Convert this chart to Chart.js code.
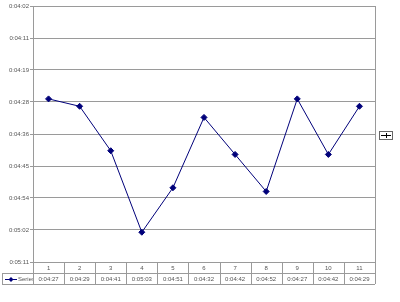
<!DOCTYPE html>
<html>
<head>
<meta charset="utf-8">
<script src="https://cdn.jsdelivr.net/npm/chart.js@4"></script>
<style>
  html, body { margin: 0; padding: 0; background: #fff; }
  #wrap { width: 400px; height: 302px; }
</style>
</head>
<body>
<div id="wrap"><canvas id="chart"></canvas></div>
<script>
// data
var categories = ['1', '2', '3', '4', '5', '6', '7', '8', '9', '10', '11'];
var seriesName = 'Series1';
var seriesText = ['0:04:27', '0:04:29', '0:04:41', '0:05:03', '0:04:51', '0:04:32', '0:04:42', '0:04:52', '0:04:27', '0:04:42', '0:04:29'];
var seriesSeconds = [267, 269, 281, 303, 291, 272, 282, 292, 267, 282, 269];
var yTickLabels = ['0:04:02', '0:04:11', '0:04:19', '0:04:28', '0:04:36', '0:04:45', '0:04:54', '0:05:02', '0:05:11'];
var yTickSeconds = [241.92, 250.56, 259.2, 267.84, 276.48, 285.12, 293.76, 302.4, 311.04];

var gridCol = '#9a9a9a';
var textCol = '#555';
var lineCol = '#00007a';

var tablePlugin = {
  id: 'dataTable',
  afterDraw: function(chart) {
    var ctx = chart.ctx;
    var x = chart.scales.x;
    var area = chart.chartArea;
    var n = categories.length;
    var colW = (area.right - area.left) / n;
    var top = area.bottom, mid = top + 11, bot = mid + 11;
    ctx.save();
    ctx.strokeStyle = gridCol;
    ctx.lineWidth = 1;
    ctx.beginPath();
    ctx.moveTo(area.left, top + 0.5); ctx.lineTo(area.right, top + 0.5);
    ctx.moveTo(2, mid + 0.5); ctx.lineTo(area.right, mid + 0.5);
    ctx.moveTo(2, bot + 0.5); ctx.lineTo(area.right, bot + 0.5);
    ctx.moveTo(2.5, mid); ctx.lineTo(2.5, bot);
    for (var i = 0; i <= n; i++) {
      var cx = Math.round(area.left + i * colW) + 0.5;
      ctx.moveTo(cx, top); ctx.lineTo(cx, bot);
    }
    ctx.stroke();

    ctx.font = '6px Arial, "Liberation Sans", sans-serif';
    ctx.fillStyle = textCol;
    ctx.textAlign = 'center';
    ctx.textBaseline = 'middle';
    for (var j = 0; j < n; j++) {
      var px = x.getPixelForValue(j);
      ctx.fillText(categories[j], px, top + 6);
      ctx.fillText(seriesText[j], px, mid + 6);
    }
    // legend key in the table
    ctx.strokeStyle = lineCol;
    ctx.beginPath();
    ctx.moveTo(5, mid + 6.5); ctx.lineTo(17, mid + 6.5);
    ctx.stroke();
    ctx.fillStyle = lineCol;
    ctx.beginPath();
    ctx.moveTo(11, mid + 4); ctx.lineTo(13.5, mid + 6.5); ctx.lineTo(11, mid + 9); ctx.lineTo(8.5, mid + 6.5);
    ctx.fill();
    ctx.save();
    ctx.beginPath(); ctx.rect(2, mid, area.left - 2, 11); ctx.clip();
    ctx.fillStyle = textCol;
    ctx.textAlign = 'left';
    ctx.fillText(seriesName, 18, mid + 6);
    ctx.restore();

    // plot right border
    ctx.strokeStyle = gridCol;
    ctx.beginPath();
    ctx.moveTo(Math.round(area.right) + 0.5, area.top); ctx.lineTo(Math.round(area.right) + 0.5, area.bottom);
    ctx.stroke();

    // legend box on the right
    ctx.strokeStyle = '#666';
    ctx.strokeRect(379.5, 131.5, 13, 8);
    ctx.strokeStyle = '#000';
    ctx.beginPath();
    ctx.moveTo(381, 135.5); ctx.lineTo(391, 135.5);
    ctx.moveTo(386.5, 133); ctx.lineTo(386.5, 138);
    ctx.stroke();
    ctx.restore();
  }
};

new Chart(document.getElementById('chart'), {
  type: 'line',
  data: {
    labels: categories,
    datasets: [{
      label: seriesName,
      data: seriesSeconds,
      borderColor: lineCol,
      backgroundColor: lineCol,
      borderWidth: 1,
      pointStyle: 'rectRot',
      pointRadius: 3,
      pointHoverRadius: 3,
      tension: 0,
      fill: false
    }]
  },
  options: {
    responsive: true,
    maintainAspectRatio: false,
    animation: false,
    layout: { padding: { left: 0, top: 6, right: 25, bottom: 40 } },
    plugins: { legend: { display: false }, tooltip: { enabled: false } },
    scales: {
      x: {
        type: 'category',
        display: false,
        offset: true
      },
      y: {
        reverse: true,
        min: yTickSeconds[0],
        max: yTickSeconds[yTickSeconds.length - 1],
        afterBuildTicks: function(scale) {
          scale.ticks = yTickSeconds.map(function(v) { return { value: v }; });
        },
        afterFit: function(scale) { scale.width = 33; },
        grid: {
          color: gridCol,
          lineWidth: 1,
          drawTicks: true,
          tickLength: 3
        },
        border: { color: gridCol },
        ticks: {
          padding: 1,
          color: textCol,
          font: { size: 6, family: 'Arial, "Liberation Sans", sans-serif' },
          callback: function(v, i) { return yTickLabels[i]; }
        }
      }
    }
  },
  plugins: [tablePlugin]
});
</script>
</body>
</html>
